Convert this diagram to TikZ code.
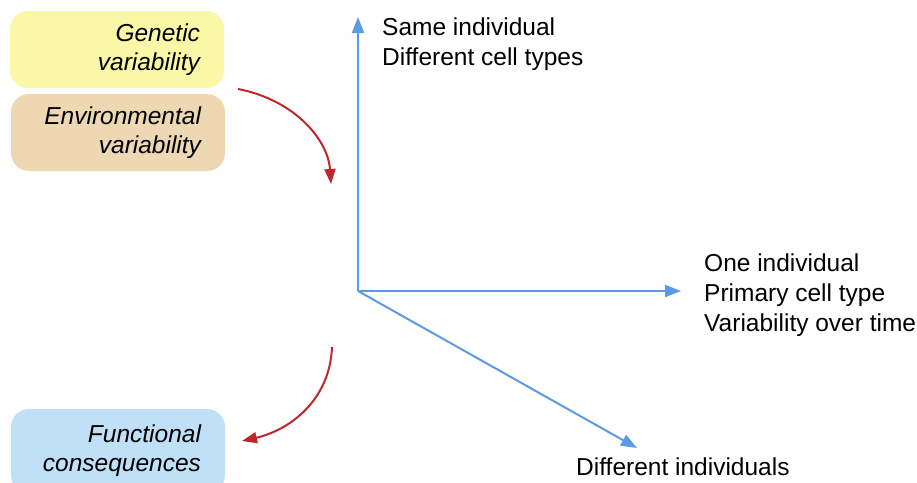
\documentclass[tikz,border=0pt]{standalone}
\usepackage{fontspec}
\setmainfont{Liberation Sans}
\usetikzlibrary{arrows.meta}
\definecolor{axisblue}{HTML}{5B9BE6}
\definecolor{arrred}{HTML}{C0272D}
\definecolor{genfill}{HTML}{FAF8A6}
\definecolor{envfill}{HTML}{EED8B4}
\definecolor{funfill}{HTML}{BFE0F6}
\begin{document}
\begin{tikzpicture}[x=1pt,y=-1pt,
  factor/.style={rounded corners=18pt, minimum width=214pt, minimum height=77pt,
    inner xsep=24pt, text width=166pt, align=right, font=\fontsize{24.5}{29}\selectfont\itshape},
  axis/.style={draw=axisblue, line width=2pt, -{Triangle[length=16pt,width=12pt]}},
  redarr/.style={draw=arrred, line width=2pt, -{Triangle[length=15pt,width=11pt]}},
  lbl/.style={font=\fontsize{24.5}{30}\selectfont, align=left, inner sep=0pt}]
\useasboundingbox (0,0) rectangle (917,482);
\node[factor, fill=genfill] (gen) at (117,49.5) {Genetic\\variability};
\node[factor, fill=envfill] (env) at (118,132.5) {Environmental\\variability};
\node[factor, fill=funfill, minimum height=84pt] (fun) at (118,451) {Functional\\consequences};
\coordinate (O) at (358,291);
\coordinate (up) at (358,17);
\coordinate (right) at (681,291);
\coordinate (diag) at (637,448);
\draw[axis] (O) -- (up);
\draw[axis] (O) -- (right);
\draw[axis] (O) -- (diag);
\node[lbl, anchor=north west] (same) at (382,18) {Same individual\\Different cell types};
\node[lbl, anchor=west] (one) at (704,295) {One individual\\Primary cell type\\Variability over time};
\node[lbl, anchor=north west] (diff) at (576,458) {Different individuals};
\coordinate (r1s) at (238,89);
\coordinate (r1e) at (331,184);
\coordinate (r2s) at (332,347);
\coordinate (r2e) at (242,441);
\draw[redarr] (r1s) .. controls (295,100) and (328,140) .. (r1e);
\draw[redarr] (r2s) .. controls (330,400) and (290,430) .. (r2e);
\end{tikzpicture}
\end{document}
